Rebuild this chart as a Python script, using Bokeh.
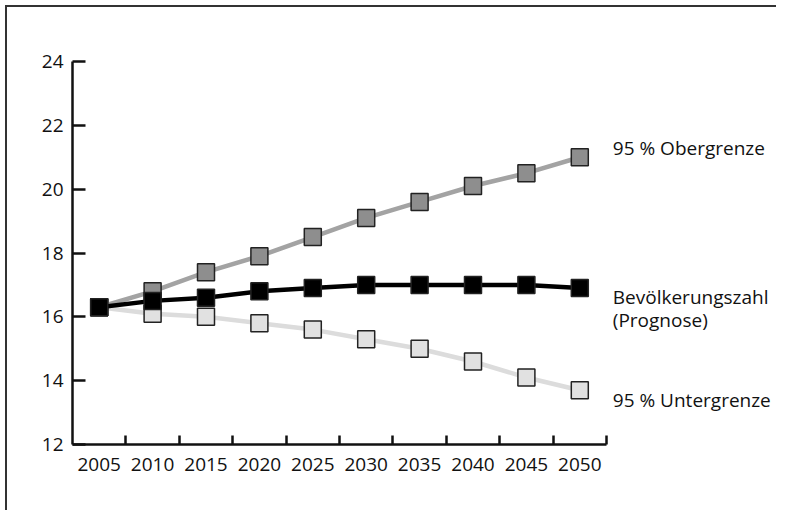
from bokeh.plotting import figure
from bokeh.models import FixedTicker, ColumnDataSource
from bokeh.core.properties import value
from bokeh.embed import file_html
from bokeh.resources import INLINE

# ---- data ----
years = [2005, 2010, 2015, 2020, 2025, 2030, 2035, 2040, 2045, 2050]
upper = [16.3, 16.8, 17.4, 17.9, 18.5, 19.1, 19.6, 20.1, 20.5, 21.0]
forecast = [16.3, 16.5, 16.6, 16.8, 16.9, 17.0, 17.0, 17.0, 17.0, 16.9]
lower = [16.3, 16.1, 16.0, 15.8, 15.6, 15.3, 15.0, 14.6, 14.1, 13.7]
y_ticks = [12, 14, 16, 18, 20, 22, 24]
label_upper = "95 % Obergrenze"
label_forecast = ["Bevölkerungszahl", "(Prognose)"]
label_lower = "95 % Untergrenze"

FONT = "Open Sans"
FS = "19px"
step = years[1] - years[0]
x_start = years[0] - step / 2
x_axis_end = years[-1] + step / 2
W, H = 776, 510
left_b, top_b, bottom_b = 72, 61, 66
frame_w = W - left_b
px_per_year = 534 / (x_axis_end - x_start)
x_end = x_start + frame_w / px_per_year

p = figure(width=W, height=H, output_backend="svg", toolbar_location=None,
           x_range=(x_start, x_end), y_range=(y_ticks[0], y_ticks[-1]),
           min_border_left=left_b, min_border_top=top_b,
           min_border_bottom=bottom_b, min_border_right=0,
           background_fill_color="white",
           border_fill_color="white", border_fill_alpha=0.0)
p.outline_line_color = None
p.grid.visible = False
# outer frame line of the graphic (top and left edges only)
p.styles = {"background":
            "linear-gradient(#333333, #333333) 5px 5px / calc(100% - 5px) 2px no-repeat, "
            "linear-gradient(#333333, #333333) 5px 5px / 2px calc(100% - 5px) no-repeat, "
            "white"}

# x axis
xa = p.xaxis[0]
xa.ticker = FixedTicker(ticks=years, minor_ticks=[y + step / 2 for y in years])
xa.bounds = (x_start, x_axis_end)
xa.major_tick_line_color = None
xa.minor_tick_in = 9
xa.minor_tick_out = 0
xa.minor_tick_line_width = 2.5
xa.minor_tick_line_color = "#111111"
xa.axis_line_width = 2.5
xa.axis_line_color = "#111111"
xa.major_label_standoff = 7
xa.major_label_text_font = FONT
xa.major_label_text_font_size = FS
xa.major_label_text_color = "#111111"

# y axis
ya = p.yaxis[0]
ya.ticker = FixedTicker(ticks=y_ticks)
ya.major_tick_in = 13
ya.major_tick_out = 0
ya.major_tick_line_width = 2.5
ya.major_tick_line_color = "#111111"
ya.minor_tick_line_color = None
ya.axis_line_width = 2.5
ya.axis_line_color = "#111111"
ya.major_label_standoff = 9
ya.major_label_text_font = FONT
ya.major_label_text_font_size = FS
ya.major_label_text_color = "#111111"

series = [
    (lower, "#dcdcdc", "#e1e1e1"),
    (upper, "#a3a3a3", "#8e8e8e"),
    (forecast, "#000000", "#000000"),
]
for vals, lcol, fcol in series:
    src = ColumnDataSource(dict(x=years, y=vals))
    p.line("x", "y", source=src, line_color=lcol, line_width=4.5)
    p.scatter("x", "y", source=src, marker="square", size=17,
              fill_color=fcol, line_color="#222222", line_width=1.5)

lab = ColumnDataSource(dict(
    x=[years[-1]] * 4,
    y=[upper[-1], forecast[-1], forecast[-1], lower[-1]],
    t=[label_upper, label_forecast[0], label_forecast[1], label_lower],
    dy=[-9, 9, 32, 10],
))
p.text("x", "y", text="t", source=lab, x_offset=33, y_offset="dy",
       text_font=value(FONT), text_font_size=FS, text_color="#111111",
       text_baseline="middle", text_align="left")

open("out.html", "w").write(file_html(p, INLINE))
